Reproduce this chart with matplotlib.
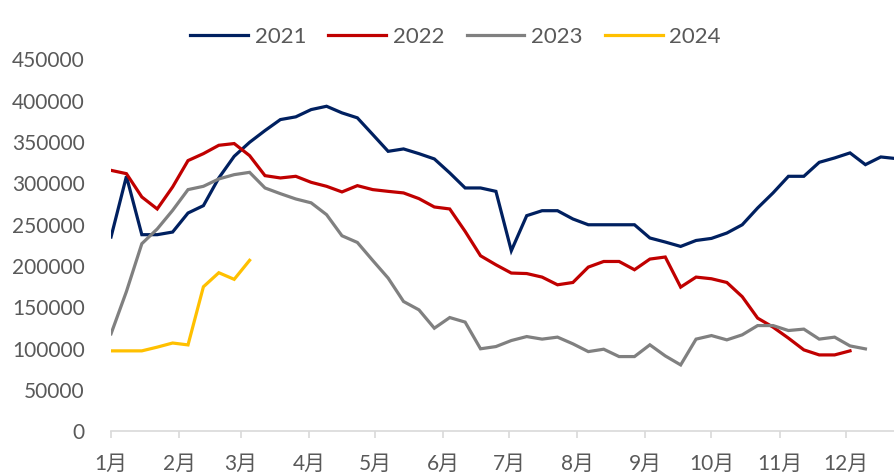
import numpy as np
import matplotlib
matplotlib.use("Agg")
import matplotlib.pyplot as plt

plt.rcParams['font.family'] = ['Lato', 'Noto Sans CJK SC', 'DejaVu Sans']

# weekly values, week 0 = first week of January
v2021 = [235200, 308600, 238000, 238000, 241200, 264200, 273100, 306600, 332800, 349700,
         363900, 377200, 380500, 389300, 393300, 385300, 379300, 359100, 338800, 341700,
         336000, 329600, 312700, 294500, 294500, 290400, 218600, 261000, 267000, 267000,
         257000, 250000, 250000, 250000, 250000, 234000, 229100, 223800, 231000, 233500,
         240000, 250000, 270300, 288500, 308600, 308600, 325500, 330800, 336900, 322700,
         332000, 330000]
v2022 = [315800, 311800, 283600, 269100, 295700, 327600, 336000, 346100, 348200, 333600,
         309400, 306600, 308600, 301300, 296500, 289700, 297300, 292500, 290400, 288500,
         281600, 271500, 269100, 242000, 212500, 201600, 191600, 191000, 186700, 177400,
         180200, 198800, 205600, 205600, 195600, 208500, 211000, 174600, 186700, 184700,
         180200, 163000, 137100, 126200, 112900, 98700, 92600, 92600, 97500]
v2023 = [118100, 169300, 227100, 244900, 267400, 292500, 296500, 305400, 310600, 313400,
         294500, 287600, 281200, 276500, 262200, 236700, 228600, 206800, 185500, 157200,
         147100, 124900, 137800, 132300, 100000, 102700, 110000, 114800, 111700, 114100,
         106000, 96600, 99500, 90600, 90600, 104800, 91400, 80500, 111700, 116000,
         110800, 116900, 128100, 128100, 122100, 123800, 111700, 114100, 103500, 99900]
v2024 = [97500, 97500, 97500, 102000, 107000, 104700, 175000, 192000, 184000, 207000]

years = ['2021', '2022', '2023', '2024']
colors = ['#002060', '#C00000', '#808080', '#FFC000']
series = [v2021, v2022, v2023, v2024]

month_labels = ['1月', '2月', '3月', '4月', '5月', '6月', '7月', '8月', '9月', '10月', '11月', '12月']
month_start = [0, 31, 59, 90, 120, 151, 181, 212, 243, 273, 304, 334]

fig = plt.figure(figsize=(8.94, 4.75), dpi=100)
ax = fig.add_axes([0.1242, 0.0916, 0.8758, 0.7834])

for name, vals, c in zip(years, series, colors):
    days = np.arange(len(vals)) * 7
    ax.plot(days, vals, color=c, linewidth=2.3, label=name, solid_joinstyle='miter')

ax.set_xlim(0, 356)
ax.set_ylim(0, 450000)
ax.set_yticks(np.arange(0, 450001, 50000))
ax.set_xticks(month_start)
ax.set_xticklabels(month_labels)

for s in ['top', 'right', 'left']:
    ax.spines[s].set_visible(False)
ax.spines['bottom'].set_color('#D9D9D9')
ax.spines['bottom'].set_linewidth(1.2)
ax.tick_params(axis='x', colors='#D9D9D9', length=5, width=1.2, pad=11,
               labelcolor='#595959', labelsize=15)
ax.tick_params(axis='y', length=0, pad=19, labelcolor='#595959', labelsize=15)

ax.legend(loc='center', bbox_to_anchor=(0.44, 1.06), ncol=4, frameon=False,
          fontsize=16, handlelength=2.6, columnspacing=1.0, handletextpad=0.3,
          labelcolor='#595959')

fig.savefig('out.png', dpi=100)
